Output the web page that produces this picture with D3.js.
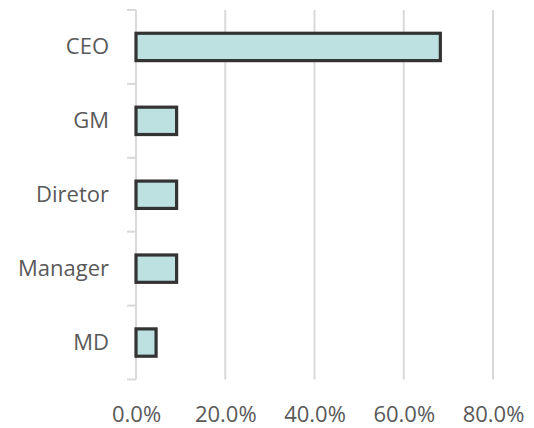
<!DOCTYPE html>
<html>
<head>
<meta charset="utf-8">
<script src="https://cdn.jsdelivr.net/npm/d3@7"></script>
<style>
  html, body { margin: 0; padding: 0; background: #fff; }
  svg { display: block; font-family: "Open Sans", "Noto Sans", sans-serif; }
</style>
</head>
<body>
<svg id="chart" width="534" height="428"></svg>
<script>
const categories = ["CEO", "GM", "Diretor", "Manager", "MD"];
const values = [0.682, 0.091, 0.091, 0.091, 0.045];
const xTicks = [0, 0.2, 0.4, 0.6, 0.8];

(function () {
const svg = d3.select("#chart");
const mLeft = 136, mRight = 493, mTop = 10, mBottom = 379.5;

const x = d3.scaleLinear().domain([0, 0.8]).range([mLeft, mRight]);
const y = d3.scaleBand().domain(categories).range([mTop, mBottom])
  .paddingInner(0.63).paddingOuter(0.315);

const grid = "#d9d9d9";
const textColor = "#595959";

// gridlines
svg.append("g").selectAll("line").data(xTicks.slice(1)).join("line")
  .attr("x1", d => x(d)).attr("x2", d => x(d))
  .attr("y1", mTop).attr("y2", mBottom)
  .attr("stroke", grid).attr("stroke-width", 2);

// x axis labels
const xAxis = d3.axisBottom(x).tickValues(xTicks).tickFormat(d3.format(".1%")).tickSize(0).tickPadding(0);
const gx = svg.append("g").attr("transform", `translate(0,${mBottom})`).call(xAxis);
gx.select(".domain").remove();
gx.selectAll("text").attr("font-size", 22).attr("fill", textColor)
  .attr("font-family", "\"Open Sans\", sans-serif").attr("dy", null).attr("y", 42.5);

// y axis line + boundary ticks
svg.append("line").attr("x1", mLeft).attr("x2", mLeft).attr("y1", mTop).attr("y2", mBottom)
  .attr("stroke", grid).attr("stroke-width", 2);
const step = y.step();
const boundaries = d3.range(categories.length + 1).map(i => mTop + i * step);
svg.append("g").selectAll("line").data(boundaries).join("line")
  .attr("x1", mLeft - 9).attr("x2", mLeft)
  .attr("y1", d => d).attr("y2", d => d)
  .attr("stroke", grid).attr("stroke-width", 2);

// y labels
const yAxis = d3.axisLeft(y).tickSize(0).tickPadding(0);
const gy = svg.append("g").attr("transform", `translate(${mLeft - 27},0)`).call(yAxis);
gy.select(".domain").remove();
gy.selectAll("text").attr("font-size", 22).attr("fill", textColor)
  .attr("font-family", "\"Open Sans\", sans-serif");

// bars
svg.append("g").selectAll("rect").data(values).join("rect")
  .attr("x", x(0))
  .attr("y", (d, i) => y(categories[i]))
  .attr("width", d => x(d) - x(0))
  .attr("height", y.bandwidth())
  .attr("fill", "#bde0e1")
  .attr("stroke", "#333333")
  .attr("stroke-width", 3.2);
})();
</script>
</body>
</html>
